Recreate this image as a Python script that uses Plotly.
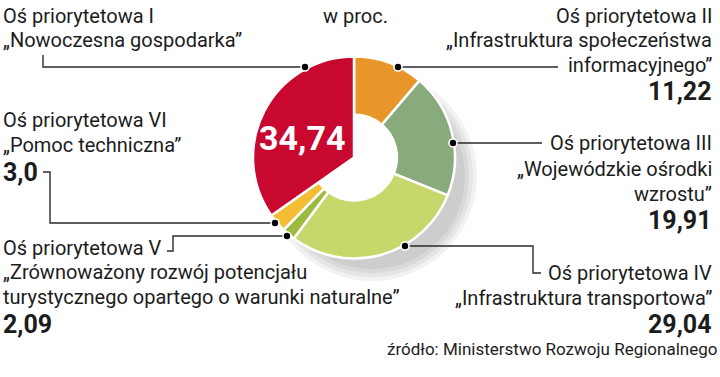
import plotly.graph_objects as go
import numpy as np

W, H = 720, 377

# ---------------- data ----------------
categories = ["Oś priorytetowa II", "Oś priorytetowa III", "Oś priorytetowa IV",
              "Oś priorytetowa V", "Oś priorytetowa VI", "Oś priorytetowa I"]
values = [11.22, 19.91, 29.04, 2.09, 3.0, 34.74]
value_labels = ["11,22", "19,91", "29,04", "2,09", "3,0", "34,74"]
colors = ["#E8962A", "#89AA7D", "#C8D76B", "#9CBA3F", "#F3BD34", "#C8082E"]

title_text = "w proc."
source_text = "źródło: Ministerstwo Rozwoju Regionalnego"

TXT = "#1c1c1c"
FONT = "Roboto"


def px(x):
    return x / W


def py(y):
    return 1 - y / H


fig = go.Figure()

cx, cy, R = 354, 157.5, 101
dom = dict(x=[px(cx - R), px(cx + R)], y=[py(cy + R), py(cy - R)])

# donut for all slices except the red one
fig.add_trace(go.Pie(
    values=values, labels=categories, sort=False, direction="clockwise", rotation=0,
    hole=0.425, textinfo="none", showlegend=False, domain=dom,
    marker=dict(colors=colors[:5] + ["rgba(0,0,0,0)"],
                line=dict(color="white", width=[2.5] * 5 + [0])),
))
# full wedge for the red slice
fig.add_trace(go.Pie(
    values=values, labels=categories, sort=False, direction="clockwise", rotation=0,
    hole=0, textinfo="none", showlegend=False, domain=dom,
    marker=dict(colors=["rgba(0,0,0,0)"] * 5 + [colors[5]],
                line=dict(color="white", width=[0] * 5 + [2.5])),
))

shapes = []

# soft shadow (annuli)
def annulus(cxp, cyp, ro, ri, n=90):
    t = np.linspace(0, 2 * np.pi, n, endpoint=False)
    outer = [(cxp + ro * np.cos(a), cyp + ro * np.sin(a)) for a in t]
    inner = [(cxp + ri * np.cos(a), cyp + ri * np.sin(a)) for a in t[::-1]]
    p = "M " + " L ".join(f"{px(x):.5f},{py(y):.5f}" for x, y in outer) + " Z "
    p += "M " + " L ".join(f"{px(x):.5f},{py(y):.5f}" for x, y in inner) + " Z"
    return p

for ro in [105, 101, 97, 93]:
    shapes.append(dict(type="path", xref="paper", yref="paper", layer="below",
                       path=annulus(372, 176, ro, 72), fillcolor="rgba(0,0,0,0.05)",
                       line=dict(width=0)))

# connector lines
LC = "#2a2a2a"
connectors = [
    [(43, 55), (43, 67), (305, 67)],
    [(398, 67), (558, 67)],
    [(453, 143), (542, 143)],
    [(405, 246), (533, 246), (533, 273), (541, 273)],
    [(287, 236), (173, 236), (173, 251), (167, 251)],
    [(43, 172), (50, 172), (50, 223), (275, 223)],
]
dots = [(305, 67), (398, 67), (453, 143), (405, 246), (287, 236), (275, 223)]

for c in connectors:
    path = "M " + " L ".join(f"{px(x):.5f},{py(y):.5f}" for x, y in c)
    shapes.append(dict(type="path", xref="paper", yref="paper", path=path,
                       line=dict(color=LC, width=1.4), layer="above"))
for x, y in dots:
    r = 4.0
    shapes.append(dict(type="circle", xref="paper", yref="paper",
                       x0=px(x - r), x1=px(x + r), y0=py(y + r), y1=py(y - r),
                       fillcolor="black", line=dict(color="white", width=1.6), layer="above"))

annotations = []


def ann(text, x, y, anchor, size=20, bold=False, color=TXT):
    annotations.append(dict(
        text=text, x=px(x), y=py(y), xref="paper", yref="paper",
        xanchor=anchor, yanchor="middle", showarrow=False,
        font=dict(family=FONT, size=size, color=color, weight=700 if bold else 400),
    ))


NUM = 25
# left column
ann(categories[5], 1, 16, "left")
ann("„Nowoczesna gospodarka”", 1, 40, "left")
ann(categories[4], 1, 120, "left")
ann("„Pomoc techniczna”", 1, 145, "left")
ann(value_labels[4], 1, 172, "left", size=NUM, bold=True)
ann(categories[3], 1, 248, "left")
ann("„Zrównoważony rozwój potencjału", 1, 272, "left")
ann("turystycznego opartego o warunki naturalne”", 1, 297, "left")
ann(value_labels[3], 1, 324, "left", size=NUM, bold=True)

# right column
RX = 714
ann(categories[0], RX, 16, "right")
ann("„Infrastruktura społeczeństwa", RX, 40, "right")
ann("informacyjnego”", RX, 65, "right")
ann(value_labels[0], RX, 92, "right", size=NUM, bold=True)
ann(categories[1], RX, 143, "right")
ann("„Wojewódzkie ośrodki", RX, 169, "right")
ann("wzrostu”", RX, 194, "right")
ann(value_labels[1], RX, 221, "right", size=NUM, bold=True)
ann(categories[2], RX, 273, "right")
ann("„Infrastruktura transportowa”", RX, 298, "right")
ann(value_labels[2], RX, 324, "right", size=NUM, bold=True)

ann(source_text, 719, 349, "right", size=17)
ann(title_text, 355, 16, "center")

# value in red slice
ann(value_labels[5], 302, 138, "center", size=34, bold=True, color="white")

fig.update_layout(
    width=W, height=H, margin=dict(l=0, r=0, t=0, b=0),
    paper_bgcolor="white", plot_bgcolor="white",
    shapes=shapes, annotations=annotations, showlegend=False,
)

fig.write_html(
    "out.html",
    config={"displayModeBar": False},
    post_script="document.body.style.margin='0';document.body.style.padding='0';"
                "document.body.style.overflow='hidden';"
                "document.documentElement.style.overflow='hidden';",
)
